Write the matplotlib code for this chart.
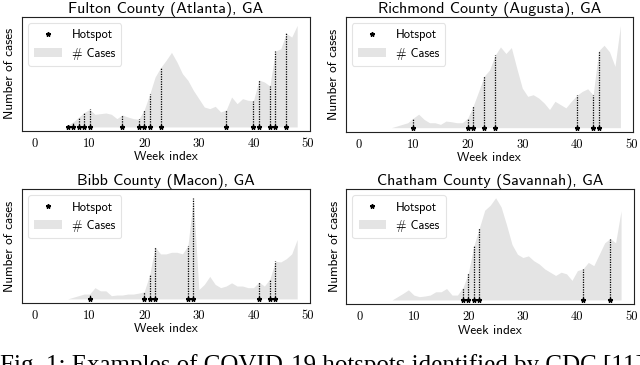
import numpy as np
import matplotlib
matplotlib.use("Agg")
import matplotlib.pyplot as plt
from matplotlib.lines import Line2D
from matplotlib.patches import Patch

weeks = list(range(6, 49))

titles = ["Fulton County (Atlanta), GA", "Richmond County (Augusta), GA",
          "Bibb County (Macon), GA", "Chatham County (Savannah), GA"]

fulton = [5, 15, 29, 43, 53, 38, 40, 42, 38, 25, 36, 30, 25, 23, 51, 98, 150, 178, 200, 224,
          195, 160, 140, 110, 85, 60, 55, 62, 45, 51, 90, 70, 85, 80, 79, 141, 135, 123, 228, 235,
          281, 270, 305]
richmond = [0, 5, 10, 15, 29, 41, 25, 15, 15, 10, 20, 18, 15, 15, 29, 66, 110, 156, 175, 219,
            245, 225, 243, 180, 120, 95, 100, 90, 75, 55, 80, 70, 60, 80, 98, 110, 118, 99, 233, 250,
            230, 186, 310]
bibb = [0, 5, 10, 15, 15, 35, 25, 25, 10, 12, 12, 15, 15, 18, 22, 75, 162, 140, 140, 145,
        145, 140, 165, 315, 29, 45, 70, 45, 35, 40, 50, 40, 40, 35, 35, 52, 40, 62, 117, 115,
        125, 140, 185]
chatham = [0, 10, 20, 31, 15, 10, 12, 15, 25, 25, 35, 15, 15, 38, 83, 166, 220, 275, 290, 313,
           285, 230, 170, 140, 130, 135, 120, 110, 95, 85, 75, 85, 80, 60, 90, 95, 115, 105, 140, 175,
           188, 175, 273]

cases = [fulton, richmond, bibb, chatham]

hot_fulton = [6, 7, 8, 9, 10, 16, 19, 20, 21, 23, 35, 40, 41, 43, 44, 46]
hot_richmond = [10, 20, 21, 23, 25, 40, 43, 44]
hot_bibb = [10, 20, 21, 22, 28, 29, 41, 43, 44]
hot_chatham = [19, 20, 21, 22, 41, 46]

hotspots = [hot_fulton, hot_richmond, hot_bibb, hot_chatham]

xticks = [0, 10, 20, 30, 40, 50]

# axes boxes [left, bottom, width, height] in figure fractions
boxes = [[0.034, 0.641, 0.450, 0.313],
         [0.540, 0.639, 0.449, 0.315],
         [0.034, 0.170, 0.450, 0.312],
         [0.541, 0.167, 0.449, 0.315]]

fill_color = "#e4e4e4"

fig = plt.figure(figsize=(6.4, 3.65), dpi=100)

for i in range(4):
    ax = fig.add_axes(boxes[i])
    y = np.array(cases[i])
    ax.fill_between(weeks, 0, y, color=fill_color, linewidth=0, zorder=1)
    hw = hotspots[i]
    hv = [y[weeks.index(w)] for w in hw]
    ax.vlines(hw, 0, hv, colors="black", linestyles=(0, (1, 1)), linewidth=0.9, zorder=2)
    ax.plot(hw, [0] * len(hw), linestyle="none", marker="*", color="black",
            markersize=3.3, zorder=3)
    ymax = max(y)
    ax.set_xlim(-2.4, 50.3)
    ax.set_ylim(-0.04 * ymax, 1.085 * ymax)
    ax.set_yticks([])
    ax.set_xticks(xticks)
    ax.set_xticklabels([str(t) for t in xticks], family="cmr10", fontsize=9)
    ax.tick_params(axis="x", length=0, pad=5)
    for s in ax.spines.values():
        s.set_linewidth(0.8)
        s.set_color("#222222")
    ax.set_title(titles[i], family="cmss10", fontsize=11.5, pad=3)
    ax.set_xlabel("Week index", family="cmss10", fontsize=9.5, labelpad=1)
    ax.set_ylabel("Number of cases", family="cmss10", fontsize=9.5, labelpad=4)
    handles = [Line2D([], [], linestyle="none", marker="*", color="black", markersize=3.3),
               Patch(facecolor=fill_color, edgecolor="none")]
    leg = ax.legend(handles, ["Hotspot", "# Cases"], loc="upper left",
                    prop={"family": "cmss10", "size": 9}, frameon=True,
                    handlelength=2.2, borderpad=0.5, labelspacing=0.5)
    leg.get_frame().set_edgecolor("#dddddd")
    leg.get_frame().set_linewidth(0.8)

# caption of the paper figure, cut off by the bottom edge
fig.text(0.0, 1 - 354 / 365, "Fig. 1: Examples of COVID-19 hotspots identified by CDC [11]",
         family="Liberation Serif", fontsize=18, va="top", ha="left")

fig.savefig("out.png", dpi=100)
